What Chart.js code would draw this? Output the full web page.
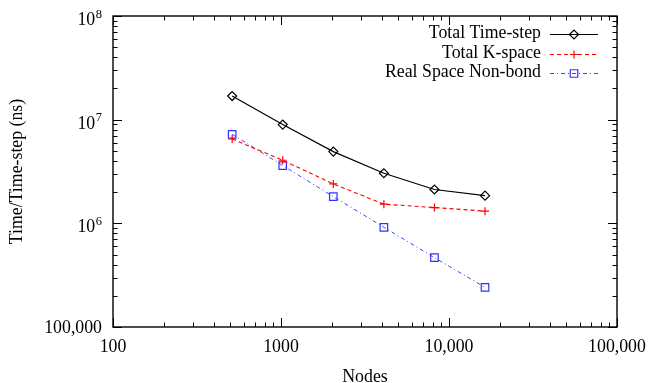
<!DOCTYPE html>
<html><head><meta charset="utf-8">
<script src="https://cdn.jsdelivr.net/npm/chart.js@4"></script>
<style>html,body{margin:0;padding:0;background:#fff}canvas{display:block}</style>
</head><body>
<canvas id="c" width="649" height="383"></canvas>
<script>
// ---- data ----
const nodes = [512, 1024, 2048, 4096, 8192, 16384];
const totalTimeStep = [1.69e7, 8.97e6, 4.92e6, 3.04e6, 2.12e6, 1.85e6];
const totalKSpace = [6.51e6, 4.06e6, 2.40e6, 1.53e6, 1.42e6, 1.31e6];
const realSpaceNonBond = [7.22e6, 3.61e6, 1.81e6, 9.16e5, 4.67e5, 2.41e5];
const seriesNames = ['Total Time-step', 'Total K-space', 'Real Space Non-bond'];
const xTickValues = [100, 1000, 10000, 100000];
const xTickLabels = ['100', '1000', '10,000', '100,000'];
const yTickValues = [1e5, 1e6, 1e7, 1e8];
const yTickBase = ['100,000', '10', '10', '10'];
const yTickExp = ['', '6', '7', '8'];
const xTitle = 'Nodes';
const yTitle = 'Time/Time-step (ns)';

const FONT = '"Liberation Serif", "Times New Roman", serif';
const FS = 17.8;

function pts(arr) { return nodes.map((x, i) => ({ x: x, y: arr[i] })); }

const axesPlugin = {
  id: 'gnuplotAxes',
  beforeDatasetsDraw(chart) {
    const ctx = chart.ctx, a = chart.chartArea, xs = chart.scales.x, ys = chart.scales.y;
    ctx.save();
    ctx.strokeStyle = '#000';
    ctx.lineWidth = 1;
    ctx.beginPath();
    for (let e = 2; e <= 5; e++) for (let k = 1; k <= 9; k++) {
      const v = k * Math.pow(10, e);
      if (v < xs.min || v > xs.max) continue;
      const px = Math.round(xs.getPixelForValue(v)) + 0.5;
      const L = k === 1 ? 9 : 4.5;
      ctx.moveTo(px, a.bottom); ctx.lineTo(px, a.bottom - L);
      ctx.moveTo(px, a.top); ctx.lineTo(px, a.top + L);
    }
    for (let e = 5; e <= 8; e++) for (let k = 1; k <= 9; k++) {
      const v = k * Math.pow(10, e);
      if (v < ys.min || v > ys.max) continue;
      const py = Math.round(ys.getPixelForValue(v)) + 0.5;
      const L = k === 1 ? 9 : 4.5;
      ctx.moveTo(a.left, py); ctx.lineTo(a.left + L, py);
      ctx.moveTo(a.right, py); ctx.lineTo(a.right - L, py);
    }
    ctx.stroke();
    ctx.lineWidth = 1.4;
    ctx.strokeRect(a.left, a.top, a.right - a.left, a.bottom - a.top);

    ctx.fillStyle = '#000';
    // x tick labels
    ctx.font = FS + 'px ' + FONT;
    ctx.textAlign = 'center';
    ctx.textBaseline = 'alphabetic';
    xTickValues.forEach((v, i) => {
      ctx.fillText(xTickLabels[i], xs.getPixelForValue(v), 352);
    });
    // y tick labels
    const rightEdge = 102;
    yTickValues.forEach((v, i) => {
      const py = ys.getPixelForValue(v);
      ctx.textAlign = 'right';
      if (!yTickExp[i]) {
        ctx.font = FS + 'px ' + FONT;
        ctx.fillText(yTickBase[i], rightEdge, py + 6);
      } else {
        ctx.font = '12.5px ' + FONT;
        const w = ctx.measureText(yTickExp[i]).width;
        ctx.fillText(yTickExp[i], rightEdge, py + 1.5);
        ctx.font = FS + 'px ' + FONT;
        ctx.fillText(yTickBase[i], rightEdge - w - 0.5, py + 9);
      }
    });
    // titles
    ctx.font = FS + 'px ' + FONT;
    ctx.textAlign = 'center';
    ctx.fillText(xTitle, (a.left + a.right) / 2, 382);
    ctx.save();
    ctx.translate(21.5, (a.top + a.bottom) / 2);
    ctx.rotate(-Math.PI / 2);
    ctx.fillText(yTitle, 0, 0);
    ctx.restore();
    ctx.restore();
  },
  afterDraw(chart) {
    const ctx = chart.ctx;
    ctx.save();
    chart.data.datasets.forEach((ds, i) => {
      const rowY = 34.3 + i * 19.5;
      ctx.fillStyle = '#000';
      ctx.font = FS + 'px ' + FONT;
      ctx.textAlign = 'right';
      ctx.textBaseline = 'alphabetic';
      ctx.fillText(ds.label, 541, rowY + 4);
      ctx.strokeStyle = ds.borderColor;
      ctx.lineWidth = ds.borderWidth;
      ctx.setLineDash(ds.borderDash || []);
      ctx.beginPath();
      ctx.moveTo(550, Math.round(rowY) + 0.5);
      ctx.lineTo(598, Math.round(rowY) + 0.5);
      ctx.stroke();
      ctx.setLineDash([]);
      ctx.strokeStyle = ds.pointBorderColor;
      ctx.fillStyle = 'rgba(0,0,0,0)';
      ctx.lineWidth = ds.pointBorderWidth;
      Chart.helpers.drawPoint(ctx, { pointStyle: ds.pointStyle, radius: ds.pointRadius, rotation: 0, borderWidth: ds.pointBorderWidth }, 574, Math.round(rowY) + 0.5);
    });
    ctx.restore();
  }
};

new Chart(document.getElementById('c'), {
  type: 'line',
  data: {
    datasets: [
      { label: seriesNames[0], data: pts(totalTimeStep), borderColor: '#000000', borderWidth: 1.2,
        pointStyle: 'rectRot', pointRadius: 4.5, pointBorderColor: '#000000', pointBorderWidth: 1.2,
        pointBackgroundColor: 'rgba(0,0,0,0)' },
      { label: seriesNames[1], data: pts(totalKSpace), borderColor: '#ff0000', borderWidth: 1.1,
        borderDash: [4, 3], pointStyle: 'cross', pointRadius: 4, pointBorderColor: '#ff0000',
        pointBorderWidth: 1.2, pointBackgroundColor: 'rgba(0,0,0,0)' },
      { label: seriesNames[2], data: pts(realSpaceNonBond), borderColor: '#4040ff', borderWidth: 1,
        borderDash: [4, 3, 1, 3], pointStyle: 'rect', pointRadius: 5.3, pointBorderColor: '#3030ff',
        pointBorderWidth: 1.2, pointBackgroundColor: 'rgba(0,0,0,0)' }
    ]
  },
  options: {
    responsive: false,
    animation: false,
    layout: { padding: { left: 0, right: 32, top: 16, bottom: 0 } },
    plugins: { legend: { display: false }, tooltip: { enabled: false } },
    elements: { line: { tension: 0 } },
    scales: {
      x: { type: 'logarithmic', min: 100, max: 100000,
        ticks: { display: false }, grid: { display: false }, border: { display: false },
        afterFit(s) { s.height = 56; } },
      y: { type: 'logarithmic', min: 1e5, max: 1e8,
        ticks: { display: false }, grid: { display: false }, border: { display: false },
        afterFit(s) { s.width = 113; } }
    }
  },
  plugins: [axesPlugin]
});
</script>
</body></html>
